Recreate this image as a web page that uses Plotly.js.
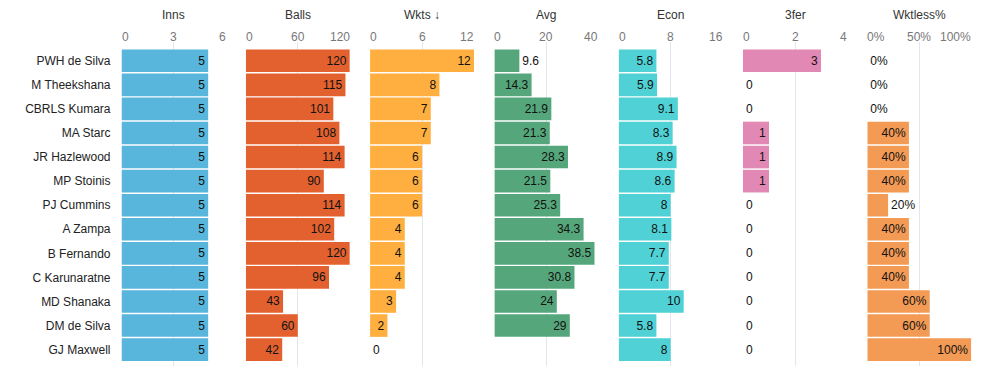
<!DOCTYPE html>
<html>
<head>
<meta charset="utf-8">
<script src="https://cdn.plot.ly/plotly-3.0.1.min.js"></script>
<style>html,body{margin:0;padding:0;background:#fff;}#chart{width:1004px;height:375px;}</style>
</head>
<body>
<div id="chart"></div>
<script>
const players = ["PWH de Silva","M Theekshana","CBRLS Kumara","MA Starc","JR Hazlewood","MP Stoinis","PJ Cummins","A Zampa","B Fernando","C Karunaratne","MD Shanaka","DM de Silva","GJ Maxwell"];
const inns = [5,5,5,5,5,5,5,5,5,5,5,5,5];
const balls = [120,115,101,108,114,90,114,102,120,96,43,60,42];
const wkts = [12,8,7,7,6,6,6,4,4,4,3,2,0];
const avg = [9.6,14.3,21.9,21.3,28.3,21.5,25.3,34.3,38.5,30.8,24,29,null];
const econ = [5.8,5.9,9.1,8.3,8.9,8.6,8,8.1,7.7,7.7,10,5.8,8];
const threeFer = [3,0,0,1,1,1,0,0,0,0,0,0,0];
const wktless = [0,0,0,0.4,0.4,0.4,0.2,0.4,0.4,0.4,0.6,0.6,1];

const titles = ["Inns","Balls","Wkts \u2193","Avg","Econ","3fer","Wktless%"];
const tickVals = [[0,3,6],[0,60,120],[0,6,12],[0,20,40],[0,8,16],[0,2,4],[0,0.5,1]];
const tickText = [["0","3","6"],["0","60","120"],["0","6","12"],["0","20","40"],["0","8","16"],["0","2","4"],["0%","50%","100%"]];
const colors = ["#58b5dc","#e2612f","#ffaf3f","#55a77b","#4fd1d5","#e288b5","#f39a55"];
const series = [inns,balls,wkts,avg,econ,threeFer,wktless];
const labelFmt = [
  v => String(v), v => String(v), v => String(v), v => String(v),
  v => String(v), v => String(v), v => Math.round(v*100) + "%"
];

const W = 1004, H = 375;
const x0 = 121.5, step = 124.3, pw = 104;
const yTop = 42, yBot = 366;
const font = "Arial, 'Liberation Sans', sans-serif";

const traces = [];
const layout = {
  width: W, height: H,
  margin: {l:0, r:0, t:0, b:0},
  paper_bgcolor: "#fff", plot_bgcolor: "#fff",
  showlegend: false,
  bargap: 0.06,
  font: {family: font, size: 12, color: "#222"},
  yaxis: {
    type: "category",
    categoryorder: "array", categoryarray: players,
    range: [12.68, -0.78],
    domain: [(H - yBot)/H, (H - yTop)/H],
    showgrid: false, zeroline: false, showline: false,
    ticks: "", ticklabelstandoff: 10,
    tickfont: {family: font, size: 12, color: "#222"},
    fixedrange: true
  },
  annotations: []
};

series.forEach((vals, k) => {
  const ax = k === 0 ? "x" : "x" + (k+1);
  const axKey = k === 0 ? "xaxis" : "xaxis" + (k+1);
  const left = x0 + step*k;
  const tv = tickVals[k];
  const rmax = tv[tv.length-1];
  const labels = vals.map(v => v === null ? "" : labelFmt[k](v));
  // put the label outside the bar when it would not fit inside
  const positions = vals.map((v, i) => {
    if (v === null) return "none";
    const barPx = v / rmax * pw;
    const textPx = labels[i].length * 6.7 + 6;
    return textPx > barPx ? "outside" : "inside";
  });
  layout[axKey] = {
    domain: [left/W, (left+pw)/W],
    range: [tv[0], rmax],
    anchor: "y",
    tickvals: tv,
    showticklabels: false,
    showgrid: true, gridcolor: "#e3e6ea", gridwidth: 1,
    zeroline: false, showline: false, ticks: "",
    fixedrange: true
  };
  traces.push({
    type: "bar", orientation: "h",
    x: vals, y: players,
    xaxis: ax, yaxis: "y",
    marker: {color: colors[k], line: {width: 0}},
    text: labels,
    texttemplate: "%{text}",
    textposition: positions,
    insidetextanchor: "end",
    constraintext: "none",
    cliponaxis: false,
    insidetextfont: {family: font, size: 12, color: "#111"},
    outsidetextfont: {family: font, size: 12, color: "#111"},
    hoverinfo: "skip"
  });
  layout.annotations.push({
    xref: "paper", yref: "paper",
    x: (left + pw/2)/W, y: (H - 15)/H,
    text: titles[k], showarrow: false,
    xanchor: "center", yanchor: "middle",
    font: {family: font, size: 12, color: "#333"}
  });
  tv.forEach((v, i) => {
    const anchor = i === 0 ? "left" : (i === tv.length-1 ? "right" : "center");
    layout.annotations.push({
      xref: ax, yref: "paper",
      x: v, y: (H - 37)/H,
      text: tickText[k][i], showarrow: false,
      xanchor: anchor, yanchor: "middle",
      xshift: i === 0 ? -2 : (i === tv.length-1 ? 2 : 0),
      font: {family: font, size: 12, color: "#777"}
    });
  });
});

Plotly.newPlot("chart", traces, layout, {staticPlot: true, displayModeBar: false});
</script>
</body>
</html>
